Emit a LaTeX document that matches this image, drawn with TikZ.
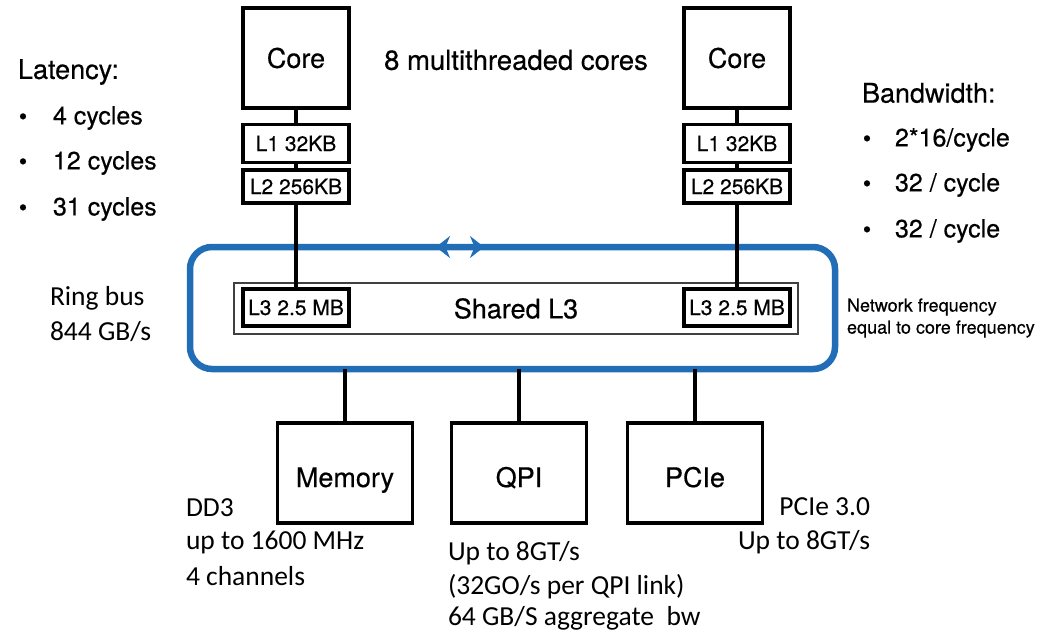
\documentclass[tikz,border=0pt]{standalone}
\usepackage{fontspec}
\setmainfont{TeX Gyre Heros}[FakeBold=0.4]
\newfontfamily\calfont{Carlito}
\usetikzlibrary{arrows.meta}
\definecolor{ringblue}{RGB}{33,110,183}
\tikzset{
  every node/.style={inner sep=0pt, outer sep=0pt},
  unit/.style={draw, line width=3.5pt, minimum width=106pt, font=\fontsize{27}{27}\selectfont},
  cachebox/.style={draw, line width=3.5pt, minimum width=106pt, font=\fontsize{21}{21}\selectfont},
  lthree/.style={draw, line width=4.5pt, minimum width=106pt, minimum height=37pt, font=\fontsize{21}{21}\selectfont},
  iobox/.style={draw, line width=3.5pt, minimum width=135pt, minimum height=100pt,
                text height=33pt, text depth=5pt, font=\fontsize{27}{27}\selectfont},
  ring/.style={draw=ringblue, line width=6.5pt, rounded corners=22pt},
  link/.style={line width=3.5pt},
  heading/.style={anchor=west, font=\fontsize{27}{27}\selectfont},
  item/.style={anchor=west, font=\fontsize{25}{25}\selectfont},
  dot/.style={font=\fontsize{24}{24}\selectfont},
  note/.style={anchor=west, font=\calfont\fontsize{27.5}{27.5}\selectfont},
  noteR/.style={anchor=east, font=\calfont\fontsize{27.5}{27.5}\selectfont},
  small/.style={anchor=west, font=\fontsize{18}{18}\selectfont},
}
\begin{document}
\begin{tikzpicture}[x=1pt, y=-1pt]
\useasboundingbox (0,0) rectangle (1046,633);

% ring bus
\node[ring, minimum width=645pt, minimum height=122pt] (ring) at (512.5,308) {};
\coordinate (arrL) at (436,247);
\coordinate (arrR) at (484,247);
\draw[ringblue, line width=6.5pt, {Stealth[length=14pt,width=22pt]}-{Stealth[length=14pt,width=22pt]}] (arrL) -- (arrR);

% shared L3
\node[draw=black!75, line width=1.3pt, minimum width=564pt, minimum height=51pt,
      font=\fontsize{27}{27}\selectfont] (shared) at (516,308.5) {Shared L3};
\node[lthree] (l3L) at (296,307.5) {L3 2.5 MB};
\node[lthree] (l3R) at (737,307.5) {L3 2.5 MB};

% cores and private caches
\node[unit, minimum height=100pt] (coreL) at (296,58) {Core};
\node[unit, minimum height=100pt] (coreR) at (737,58) {Core};
\node[cachebox, minimum height=38pt] (l1L) at (296,143.5) {L1 32KB};
\node[cachebox, minimum height=33pt] (l2L) at (296,186.5) {L2 256KB};
\node[cachebox, minimum height=38pt] (l1R) at (737,143.5) {L1 32KB};
\node[cachebox, minimum height=33pt] (l2R) at (737,186.5) {L2 256KB};
\node[font=\fontsize{27.5}{27.5}\selectfont] (cores) at (516,60) {8 multithreaded cores};

\draw[link] (coreL) -- (l1L);
\draw[link] (l1L) -- (l2L);
\draw[link] (l2L) -- (l3L);
\draw[link] (coreR) -- (l1R);
\draw[link] (l1R) -- (l2R);
\draw[link] (l2R) -- (l3R);

% uncore devices
\node[iobox] (mem) at (345,473) {Memory};
\node[iobox] (qpi) at (519,473) {QPI};
\node[iobox] (pcie) at (695,473) {PCIe};
\draw[link] (ring.south -| mem.north) -- (mem.north);
\draw[link] (ring.south -| qpi.north) -- (qpi.north);
\draw[link] (ring.south -| pcie.north) -- (pcie.north);

% latency list
\node[heading] (lat) at (18,72) {Latency:};
\node[dot] (b1) at (23,119) {•};
\node[dot] (b2) at (23,164) {•};
\node[dot] (b3) at (23,210) {•};
\node[item] (lat1) at (53,118) {4 cycles};
\node[item] (lat2) at (53,163) {12 cycles};
\node[item] (lat3) at (53,209) {31 cycles};

% bandwidth list
\node[heading] (bw) at (862,93) {Bandwidth:};
\node[dot] (c1) at (867,141) {•};
\node[dot] (c2) at (867,186) {•};
\node[dot] (c3) at (867,232) {•};
\node[item] (bw1) at (895,140) {2*16/cycle};
\node[item] (bw2) at (895,185) {32 / cycle};
\node[item] (bw3) at (895,231) {32 / cycle};

% ring notes
\node[note] (rb1) at (50,298) {Ring bus};
\node[note] (rb2) at (50,332) {844 GB/s};
\node[small] (nf1) at (847,307) {Network frequency};
\node[small] (nf2) at (847,329) {equal to core frequency};

% device notes
\node[note] (m1) at (186,508) {DD3};
\node[note] (m2) at (186,542) {up to 1600 MHz};
\node[note] (m3) at (186,576) {4 channels};
\node[note] (q1) at (448,553) {Up to 8GT/s};
\node[note] (q2) at (448,587) {(32GO/s per QPI link)};
\node[note] (q3) at (448,618) {64 GB/S aggregate\ \ bw};
\node[noteR] (p1) at (870,507) {PCIe 3.0};
\node[noteR] (p2) at (870,542) {Up to 8GT/s};
\end{tikzpicture}
\end{document}
